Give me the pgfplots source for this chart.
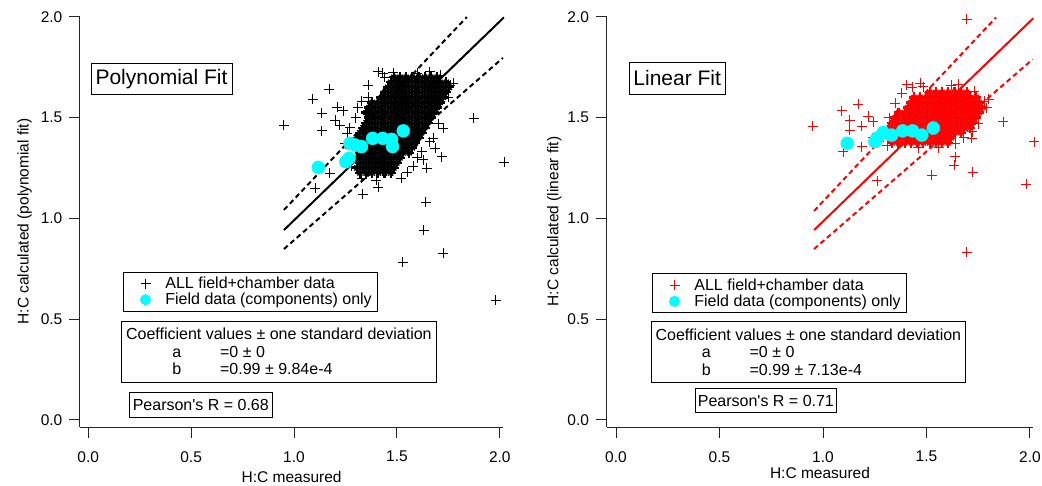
\documentclass[border=0pt]{standalone}
\usepackage{fontspec}
\setmainfont{Liberation Sans}[Ligatures=TeXOff]
\usepackage{pgfplots}
\pgfplotsset{compat=1.18}
\usepackage{pgfplotstable}
\definecolor{aqua}{RGB}{0,255,255}
\pgfplotsset{
  hcbase/.style={
    scale only axis, height=411pt, ymin=-0.035, ymax=2.004, clip=false,
    axis x line*=bottom, axis y line*=left,
    axis line style={line width=1pt, black!85, -},
    tick style={line width=1pt, black!85},
    tick align=outside, major tick length=11pt, xtick pos=left, ytick pos=left,
    xtick={0,0.5,1,1.5,2}, ytick={0,0.5,1,1.5,2}, minor tick num=0,
    /pgf/number format/.cd, fixed, fixed zerofill, precision=1, assume math mode=true, /pgfplots/.cd,
    tick label style={font=\fontsize{15.5}{18}\selectfont},
    xticklabel style={inner sep=0pt, anchor=north, yshift=-13pt},
    yticklabel style={inner sep=0pt, anchor=east, xshift=-6.5pt},
    label style={font=\fontsize{15.5}{18}\selectfont},
    legend cell align=left,
    legend style={anchor=north west, draw=black, line width=1pt, fill=white,
      inner xsep=3.9pt, inner ysep=3.4pt, row sep=0pt,
      font=\fontsize{16}{18}\selectfont, nodes={inner sep=1.5pt},
      /tikz/every even column/.append style={column sep=0pt}},
  },
  limg/.style={legend image code/.code={\path[draw=none,fill=none] (0pt,-4pt) rectangle (36.8pt,4pt);
     \draw[mark repeat=2,mark phase=2,##1] plot coordinates {(0pt,0pt)(18.4pt,0pt)(36.8pt,0pt)};}},
}
% dense core of the field+chamber cloud, polynomial fit
\pgfplotstableread{
x y
1.485 1.70
1.515 1.70
1.545 1.70
1.575 1.70
1.605 1.70
1.635 1.70
1.665 1.70
1.695 1.70
1.47 1.675
1.50 1.675
1.53 1.675
1.56 1.675
1.59 1.675
1.62 1.675
1.65 1.675
1.68 1.675
1.71 1.675
1.74 1.675
1.455 1.65
1.485 1.65
1.515 1.65
1.545 1.65
1.575 1.65
1.605 1.65
1.635 1.65
1.665 1.65
1.695 1.65
1.725 1.65
1.755 1.65
1.44 1.625
1.47 1.625
1.50 1.625
1.53 1.625
1.56 1.625
1.59 1.625
1.62 1.625
1.65 1.625
1.68 1.625
1.71 1.625
1.74 1.625
1.425 1.60
1.455 1.60
1.485 1.60
1.515 1.60
1.545 1.60
1.575 1.60
1.605 1.60
1.635 1.60
1.665 1.60
1.695 1.60
1.725 1.60
1.38 1.575
1.41 1.575
1.44 1.575
1.47 1.575
1.50 1.575
1.53 1.575
1.56 1.575
1.59 1.575
1.62 1.575
1.65 1.575
1.68 1.575
1.71 1.575
1.365 1.55
1.395 1.55
1.425 1.55
1.455 1.55
1.485 1.55
1.515 1.55
1.545 1.55
1.575 1.55
1.605 1.55
1.635 1.55
1.665 1.55
1.695 1.55
1.35 1.525
1.38 1.525
1.41 1.525
1.44 1.525
1.47 1.525
1.50 1.525
1.53 1.525
1.56 1.525
1.59 1.525
1.62 1.525
1.65 1.525
1.68 1.525
1.365 1.50
1.395 1.50
1.425 1.50
1.455 1.50
1.485 1.50
1.515 1.50
1.545 1.50
1.575 1.50
1.605 1.50
1.635 1.50
1.665 1.50
1.35 1.475
1.38 1.475
1.41 1.475
1.44 1.475
1.47 1.475
1.50 1.475
1.53 1.475
1.56 1.475
1.59 1.475
1.62 1.475
1.65 1.475
1.335 1.45
1.365 1.45
1.395 1.45
1.425 1.45
1.455 1.45
1.485 1.45
1.515 1.45
1.545 1.45
1.575 1.45
1.605 1.45
1.635 1.45
1.32 1.425
1.35 1.425
1.38 1.425
1.41 1.425
1.44 1.425
1.47 1.425
1.50 1.425
1.53 1.425
1.56 1.425
1.59 1.425
1.62 1.425
1.305 1.40
1.335 1.40
1.365 1.40
1.395 1.40
1.425 1.40
1.455 1.40
1.485 1.40
1.515 1.40
1.545 1.40
1.575 1.40
1.605 1.40
1.32 1.375
1.35 1.375
1.38 1.375
1.41 1.375
1.44 1.375
1.47 1.375
1.50 1.375
1.53 1.375
1.56 1.375
1.59 1.375
1.305 1.35
1.335 1.35
1.365 1.35
1.395 1.35
1.425 1.35
1.455 1.35
1.485 1.35
1.515 1.35
1.545 1.35
1.575 1.35
1.32 1.325
1.35 1.325
1.38 1.325
1.41 1.325
1.44 1.325
1.47 1.325
1.50 1.325
1.53 1.325
1.56 1.325
1.305 1.30
1.335 1.30
1.365 1.30
1.395 1.30
1.425 1.30
1.455 1.30
1.485 1.30
1.515 1.30
1.32 1.275
1.35 1.275
1.38 1.275
1.41 1.275
1.44 1.275
1.47 1.275
1.50 1.275
1.305 1.25
1.335 1.25
1.365 1.25
1.395 1.25
1.425 1.25
1.455 1.25
1.485 1.25
1.32 1.225
1.35 1.225
1.38 1.225
1.41 1.225
1.44 1.225
1.47 1.225
}\cloudpoly
% dense core of the field+chamber cloud, linear fit
\pgfplotstableread{
x y
1.515 1.625
1.545 1.625
1.575 1.625
1.605 1.625
1.635 1.625
1.665 1.625
1.695 1.625
1.44 1.60
1.47 1.60
1.50 1.60
1.53 1.60
1.56 1.60
1.59 1.60
1.62 1.60
1.65 1.60
1.68 1.60
1.71 1.60
1.74 1.60
1.425 1.575
1.455 1.575
1.485 1.575
1.515 1.575
1.545 1.575
1.575 1.575
1.605 1.575
1.635 1.575
1.665 1.575
1.695 1.575
1.725 1.575
1.755 1.575
1.41 1.55
1.44 1.55
1.47 1.55
1.50 1.55
1.53 1.55
1.56 1.55
1.59 1.55
1.62 1.55
1.65 1.55
1.68 1.55
1.71 1.55
1.74 1.55
1.77 1.55
1.365 1.525
1.395 1.525
1.425 1.525
1.455 1.525
1.485 1.525
1.515 1.525
1.545 1.525
1.575 1.525
1.605 1.525
1.635 1.525
1.665 1.525
1.695 1.525
1.725 1.525
1.755 1.525
1.35 1.50
1.38 1.50
1.41 1.50
1.44 1.50
1.47 1.50
1.50 1.50
1.53 1.50
1.56 1.50
1.59 1.50
1.62 1.50
1.65 1.50
1.68 1.50
1.71 1.50
1.74 1.50
1.335 1.475
1.365 1.475
1.395 1.475
1.425 1.475
1.455 1.475
1.485 1.475
1.515 1.475
1.545 1.475
1.575 1.475
1.605 1.475
1.635 1.475
1.665 1.475
1.695 1.475
1.725 1.475
1.32 1.45
1.35 1.45
1.38 1.45
1.41 1.45
1.44 1.45
1.47 1.45
1.50 1.45
1.53 1.45
1.56 1.45
1.59 1.45
1.62 1.45
1.65 1.45
1.68 1.45
1.71 1.45
1.335 1.425
1.365 1.425
1.395 1.425
1.425 1.425
1.455 1.425
1.485 1.425
1.515 1.425
1.545 1.425
1.575 1.425
1.605 1.425
1.635 1.425
1.665 1.425
1.32 1.40
1.35 1.40
1.38 1.40
1.41 1.40
1.44 1.40
1.47 1.40
1.50 1.40
1.53 1.40
1.56 1.40
1.59 1.40
1.62 1.40
1.335 1.375
1.365 1.375
1.395 1.375
1.425 1.375
1.455 1.375
1.485 1.375
1.515 1.375
1.545 1.375
1.575 1.375
1.605 1.375
}\cloudlin
\begin{document}
\begin{tikzpicture}[x=1pt,y=1pt]
\path[use as bounding box] (0,0) rectangle (1042,485);
% ---------------- Left: polynomial fit ----------------
\begin{axis}[hcbase, at={(80pt,58pt)}, anchor=south west, width=423.3pt,
  xmin=-0.04, xmax=2.017,
  xlabel={H:C measured}, ylabel={H:C calculated (polynomial fit)},
  x label style={at={(axis description cs:0.5,-0.1217)}, anchor=center},
  y label style={at={(axis description cs:-0.131,0.5)}, anchor=center},
  legend style={at={(0.1009,0.3779)}}]
\addplot[forget plot, black, line width=2pt] coordinates {(0.951,0.942)(2.02,1.997)};
\addplot[forget plot, black, line width=2pt, dash pattern=on 5pt off 3.5pt] coordinates {(0.951,1.042)(1.840,1.999)};
\addplot[forget plot, black, line width=2pt, dash pattern=on 5pt off 3.5pt] coordinates {(0.951,0.848)(2.015,1.796)};
\addplot[forget plot, only marks, mark=+, mark size=5pt, black, line width=2.2pt] table {\cloudpoly};
\addplot[forget plot, only marks, mark=x, mark size=3.6pt, black, line width=1.4pt] table {\cloudpoly};
\addplot[only marks, mark=+, mark size=5pt, black, line width=0.9pt, limg] coordinates {
(1.36,1.60)(1.33,1.58)(1.30,1.50)(1.27,1.45)(1.25,1.37)(1.26,1.30)(1.60,1.72)(1.44,1.70)(1.75,1.60)(1.70,1.47)
(1.66,1.38)(1.62,1.33)(1.58,1.26)(1.52,1.20)(1.40,1.19)(1.33,1.20)(1.76,1.66)(1.43,1.72)(1.71,1.71)(1.31,1.55)
(1.28,1.26)(1.60,1.30)(1.36,1.66)(1.55,1.23)
(0.951,1.463)(1.090,1.591)(1.171,1.640)(1.134,1.521)(1.134,1.434)(1.210,1.551)(1.239,1.533)(1.199,1.488)
(1.223,1.463)(1.259,1.422)(1.409,1.728)(1.482,1.723)(1.660,1.728)(1.874,1.498)(2.021,1.278)(1.641,1.080)
(1.631,0.942)(1.725,0.827)(1.528,0.782)(1.981,0.595)(1.102,1.149)(1.333,1.121)(1.409,1.154)(1.174,1.224)
(1.717,1.306)(1.676,1.397)(1.725,1.447)(1.628,1.290)(1.644,1.249)(1.774,1.670)(1.685,1.348)
};
\addlegendentry{ALL field+chamber data}
\addplot[only marks, mark=*, mark size=6.5pt, mark options={draw=aqua, fill=aqua}, aqua, limg,
  legend image post style={mark size=5pt}] coordinates {
(1.118,1.253)(1.252,1.281)(1.268,1.298)(1.272,1.372)(1.296,1.364)(1.328,1.356)(1.382,1.397)(1.431,1.397)(1.474,1.392)(1.479,1.356)(1.531,1.434)
};
\addlegendentry{Field data (components) only}
\end{axis}
% ---------------- Right: linear fit ----------------
\begin{axis}[hcbase, at={(606.7pt,58pt)}, anchor=south west, width=426.6pt,
  xmin=-0.045, xmax=2.016,
  xlabel={H:C measured}, ylabel={H:C calculated (linear fit)},
  x label style={at={(axis description cs:0.5,-0.1115)}, anchor=center},
  y label style={at={(axis description cs:-0.1224,0.5)}, anchor=center},
  legend style={at={(0.1055,0.374)}}]
\addplot[forget plot, red, line width=2pt] coordinates {(0.957,0.942)(2.016,1.993)};
\addplot[forget plot, red, line width=2pt, dash pattern=on 5pt off 3.5pt] coordinates {(0.957,1.037)(1.836,1.997)};
\addplot[forget plot, red, line width=2pt, dash pattern=on 5pt off 3.5pt] coordinates {(0.957,0.848)(2.013,1.789)};
\addplot[forget plot, only marks, mark=+, mark size=5pt, red, line width=2.2pt] table {\cloudlin};
\addplot[forget plot, only marks, mark=x, mark size=3.6pt, red, line width=1.4pt] table {\cloudlin};
\addplot[only marks, mark=+, mark size=5pt, red, line width=0.9pt, limg] coordinates {
(1.78,1.58)(1.79,1.55)(1.75,1.47)(1.72,1.43)(1.68,1.40)(1.64,1.37)(1.29,1.42)(1.27,1.38)(1.24,1.40)(1.43,1.65)
(1.38,1.62)(1.73,1.63)(1.31,1.36)(1.46,1.35)(1.56,1.35)(1.80,1.59)(1.47,1.67)(1.62,1.66)(1.35,1.57)(1.32,1.50)
(0.950,1.458)(1.090,1.533)(1.171,1.567)(1.130,1.488)(1.130,1.438)(1.219,1.508)(1.243,1.480)(1.187,1.458)
(1.098,1.331)(1.187,1.356)(1.404,1.662)(1.485,1.653)(1.654,1.665)(1.871,1.480)(2.021,1.380)(1.981,1.169)
(1.525,1.215)(1.723,1.229)(1.694,0.832)(1.262,1.186)(1.633,1.265)(1.638,1.306)(1.718,1.397)(1.678,1.438)(1.694,1.988)
};
\addlegendentry{ALL field+chamber data}
\addplot[only marks, mark=*, mark size=6.5pt, mark options={draw=aqua, fill=aqua}, aqua, limg,
  legend image post style={mark size=5pt}] coordinates {
(1.117,1.372)(1.251,1.381)(1.261,1.398)(1.291,1.426)(1.332,1.413)(1.385,1.434)(1.433,1.434)(1.477,1.413)(1.533,1.448)
};
\addlegendentry{Field data (components) only}
\end{axis}
% ---------------- Text boxes ----------------
\tikzset{tbox/.style={draw=black, line width=1pt, inner sep=0pt, fill=white}}
\node[tbox, minimum width=141pt, minimum height=31pt, font=\fontsize{21}{24}\selectfont] at (161.5,406.2) {Polynomial Fit};
\node[tbox, minimum width=95.7pt, minimum height=31.3pt, font=\fontsize{21}{24}\selectfont] at (677.2,406.6) {Linear Fit};
\node[tbox, minimum width=314.3pt, minimum height=61.3pt, align=left, font=\fontsize{16}{17.5}\selectfont] at (278.9,133.3)
 {Coefficient values ± one standard deviation\\
  \hspace*{46.2pt}a\hspace*{38.9pt}=0 ± 0\\
  \hspace*{46.2pt}b\hspace*{38.9pt}=0.99 ± 9.84e-4};
\node[tbox, minimum width=313.3pt, minimum height=61.7pt, align=left, font=\fontsize{16}{17.5}\selectfont] at (808.4,133.1)
 {Coefficient values ± one standard deviation\\
  \hspace*{46.2pt}a\hspace*{38.9pt}=0 ± 0\\
  \hspace*{46.2pt}b\hspace*{38.9pt}=0.99 ± 7.13e-4};
\node[tbox, minimum width=143pt, minimum height=24.6pt, font=\fontsize{16}{18}\selectfont] at (200.8,80) {Pearson's R = 0.68};
\node[tbox, minimum width=141.7pt, minimum height=24.4pt, font=\fontsize{16}{18}\selectfont] at (765.9,84.5) {Pearson's R = 0.71};
\end{tikzpicture}
\end{document}
